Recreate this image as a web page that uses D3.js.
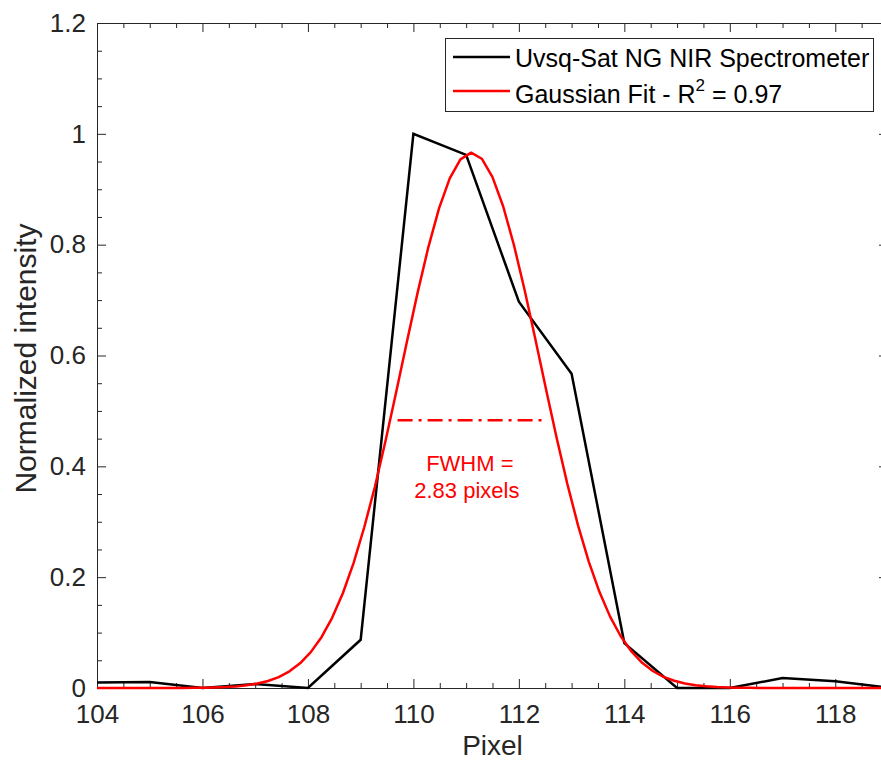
<!DOCTYPE html>
<html>
<head>
<meta charset="utf-8">
<script src="https://cdn.jsdelivr.net/npm/d3@7"></script>
<style>
  html, body { margin: 0; padding: 0; background: #ffffff; }
  svg { display: block; font-family: "Liberation Sans", Arial, Helvetica, sans-serif; }
</style>
</head>
<body>
<svg id="chart" width="881" height="762"></svg>
<script>
// ---------------- data ----------------
const pixels = [104, 105, 106, 107, 108, 109, 110, 111, 112, 113, 114, 115, 116, 117, 118, 119];
const measured = [0.010, 0.011, 0.000, 0.007, 0.000, 0.087, 1.000, 0.962, 0.697, 0.567, 0.081, 0.000, 0.000, 0.018, 0.012, 0.001];

const fitX = [104.000, 104.203, 104.405, 104.608, 104.811, 105.014, 105.216, 105.419, 105.622, 105.824,
              106.027, 106.230, 106.432, 106.635, 106.838, 107.041, 107.243, 107.446, 107.649, 107.851,
              108.054, 108.257, 108.459, 108.662, 108.865, 109.068, 109.270, 109.473, 109.676, 109.878,
              110.081, 110.284, 110.486, 110.689, 110.892, 111.095, 111.297, 111.500, 111.703, 111.905,
              112.108, 112.311, 112.514, 112.716, 112.919, 113.122, 113.324, 113.527, 113.730, 113.932,
              114.135, 114.338, 114.541, 114.743, 114.946, 115.149, 115.351, 115.554, 115.757, 115.959,
              116.162, 116.365, 116.568, 116.770, 116.973, 117.176, 117.378, 117.581, 117.784, 117.986,
              118.189, 118.392, 118.595, 118.797, 119.000];
const fitY = [0, 0, 0, 0, 0, 0, 0, 0, 0.0001, 0.0003,
              0.0005, 0.0010, 0.0017, 0.0029, 0.0049, 0.0080, 0.0127, 0.0197, 0.0301, 0.0446,
              0.0647, 0.0917, 0.1266, 0.1710, 0.2254, 0.2901, 0.3631, 0.4467, 0.5350, 0.6253,
              0.7139, 0.7957, 0.8655, 0.9196, 0.9539, 0.9660, 0.9551, 0.9220, 0.8689, 0.7998,
              0.7185, 0.6301, 0.5395, 0.4514, 0.3684, 0.2935, 0.2286, 0.1736, 0.1288, 0.0934,
              0.0660, 0.0455, 0.0307, 0.0202, 0.0130, 0.0081, 0.0050, 0.0030, 0.0017, 0.0010,
              0.0006, 0.0003, 0.0002, 0, 0, 0, 0, 0, 0, 0,
              0, 0, 0, 0, 0];

const fwhmStart = 109.70;
const fwhmEnd = 112.52;
const fwhmLevel = 0.483;
const fwhmCenter = 111.07;

const xTicks = [104, 106, 108, 110, 112, 114, 116, 118];
const xTickLabels = ["104", "106", "108", "110", "112", "114", "116", "118"];
const yTicks = [0, 0.2, 0.4, 0.6, 0.8, 1, 1.2];
const yTickLabels = ["0", "0.2", "0.4", "0.6", "0.8", "1", "1.2"];

const seriesNames = ["Uvsq-Sat NG NIR Spectrometer", "Gaussian Fit - R"];
const xLabel = "Pixel";
const yLabel = "Normalized intensity";
const fwhmText = ["FWHM =", "2.83 pixels"];

// ---------------- drawing ----------------
const svg = d3.select("#chart");
const axisColor = "#262626";

const x = d3.scaleLinear().domain([104, 119]).range([97, 888]);
const y = d3.scaleLinear().domain([0, 1.2]).range([688, 23]);

const xMinor = d3.range(104, 119.001, 0.5).filter(v => Math.abs(v / 2 - Math.round(v / 2)) > 1e-6);
const yMinor = d3.range(0, 1.2001, 0.05).filter(v => Math.abs(v / 0.2 - Math.round(v / 0.2)) > 1e-6);

const tickFont = 26;

function styleAxis(g) {
  g.select(".domain").attr("stroke", axisColor).attr("stroke-width", 1);
  g.selectAll(".tick line").attr("stroke", axisColor).attr("stroke-width", 1);
  g.selectAll(".tick text").attr("fill", axisColor).style("font-size", tickFont + "px")
    .style("font-family", '"Liberation Sans", Arial, Helvetica, sans-serif');
}

// bottom axis
svg.append("g").attr("transform", `translate(0,${y(0)})`)
  .call(d3.axisBottom(x).tickValues(xTicks).tickFormat((d, i) => xTickLabels[i])
        .tickSizeInner(-9).tickSizeOuter(0).tickPadding(16.5))
  .call(styleAxis);
svg.append("g").attr("transform", `translate(0,${y(0)})`)
  .call(d3.axisBottom(x).tickValues(xMinor).tickFormat("").tickSizeInner(-5).tickSizeOuter(0))
  .call(styleAxis).call(g => g.select(".domain").remove());

// top axis
svg.append("g").attr("transform", `translate(0,${y(1.2)})`)
  .call(d3.axisTop(x).tickValues(xTicks).tickFormat("").tickSizeInner(-9).tickSizeOuter(0))
  .call(styleAxis);
svg.append("g").attr("transform", `translate(0,${y(1.2)})`)
  .call(d3.axisTop(x).tickValues(xMinor).tickFormat("").tickSizeInner(-5).tickSizeOuter(0))
  .call(styleAxis).call(g => g.select(".domain").remove());

// left axis
svg.append("g").attr("transform", `translate(${x(104)},0)`)
  .call(d3.axisLeft(y).tickValues(yTicks).tickFormat((d, i) => yTickLabels[i])
        .tickSizeInner(-9).tickSizeOuter(0).tickPadding(11))
  .call(styleAxis);
svg.append("g").attr("transform", `translate(${x(104)},0)`)
  .call(d3.axisLeft(y).tickValues(yMinor).tickFormat("").tickSizeInner(-5).tickSizeOuter(0))
  .call(styleAxis).call(g => g.select(".domain").remove());

// right axis
svg.append("g").attr("transform", `translate(${x(119)},0)`)
  .call(d3.axisRight(y).tickValues(yTicks).tickFormat("").tickSizeInner(-9).tickSizeOuter(0))
  .call(styleAxis);
svg.append("g").attr("transform", `translate(${x(119)},0)`)
  .call(d3.axisRight(y).tickValues(yMinor).tickFormat("").tickSizeInner(-5).tickSizeOuter(0))
  .call(styleAxis).call(g => g.select(".domain").remove());

// axis labels
svg.append("text")
  .attr("x", (x(104) + x(119)) / 2).attr("y", 755)
  .attr("text-anchor", "middle").attr("fill", axisColor)
  .style("font-size", "28px").text(xLabel);
svg.append("text")
  .attr("transform", `translate(36,${(y(0) + y(1.2)) / 2 + 3}) rotate(-90)`)
  .attr("text-anchor", "middle").attr("fill", axisColor)
  .style("font-size", "30px").text(yLabel);

// lines
const line = d3.line().x(d => x(d[0])).y(d => y(d[1]));

svg.append("path")
  .datum(pixels.map((p, i) => [p, measured[i]]))
  .attr("d", line).attr("fill", "none")
  .attr("stroke", "#000000").attr("stroke-width", 2.5).attr("stroke-linejoin", "miter");

svg.append("path")
  .datum(fitX.map((p, i) => [p, fitY[i]]))
  .attr("d", line).attr("fill", "none")
  .attr("stroke", "#ff0000").attr("stroke-width", 2.5).attr("stroke-linejoin", "round");

// FWHM marker
svg.append("path")
  .datum([[fwhmStart, fwhmLevel], [fwhmEnd, fwhmLevel]])
  .attr("d", line).attr("fill", "none")
  .attr("stroke", "#ff0000").attr("stroke-width", 2.5)
  .attr("stroke-dasharray", "15,6,3,6");

svg.append("text")
  .attr("x", x(fwhmCenter)).attr("y", y(0.391))
  .attr("text-anchor", "middle").attr("fill", "#ff0000")
  .style("font-size", "22px").text(fwhmText[0]);
svg.append("text")
  .attr("x", x(fwhmCenter) - 3).attr("y", y(0.343))
  .attr("text-anchor", "middle").attr("fill", "#ff0000")
  .style("font-size", "22px").text(fwhmText[1]);

// legend
const legend = svg.append("g");
legend.append("rect")
  .attr("x", 445.5).attr("y", 38.5).attr("width", 428).attr("height", 73)
  .attr("fill", "#ffffff").attr("stroke", axisColor).attr("stroke-width", 1);

const legendColors = ["#000000", "#ff0000"];
const legendRowsY = [57, 91];
legendRowsY.forEach((ly, i) => {
  legend.append("line")
    .attr("x1", 453).attr("x2", 510).attr("y1", ly).attr("y2", ly)
    .attr("stroke", legendColors[i]).attr("stroke-width", 2.5);
});
legend.append("text")
  .attr("x", 515).attr("y", 66.5).attr("fill", "#000000")
  .style("font-size", "25px").text(seriesNames[0]);
const t2 = legend.append("text")
  .attr("x", 515).attr("y", 103).attr("fill", "#000000")
  .style("font-size", "25px");
t2.append("tspan").text(seriesNames[1]);
t2.append("tspan").attr("dy", -12).style("font-size", "17px").text("2");
t2.append("tspan").attr("dy", 12).text(" = 0.97");
</script>
</body>
</html>
